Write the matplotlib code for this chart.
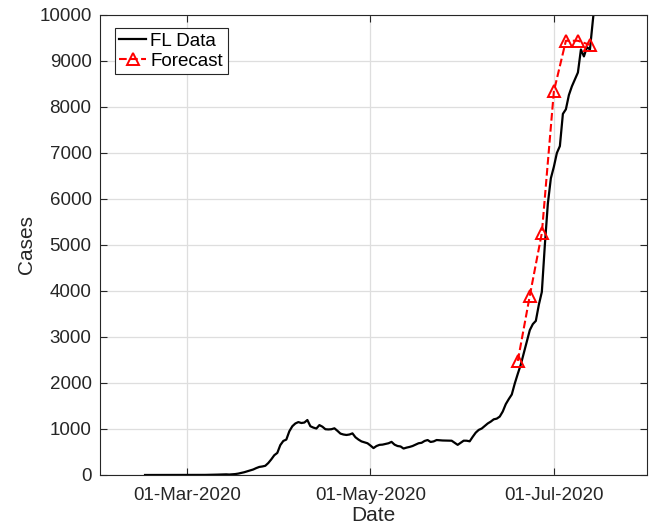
import matplotlib
matplotlib.use('Agg')
import matplotlib.pyplot as plt
import matplotlib.dates as mdates
import numpy as np

plt.rcParams['font.family'] = ['Liberation Sans', 'DejaVu Sans']

# FL daily cases, one value per day starting 16-Feb-2020
fl_start = '2020-02-16'
fl_cases = [0, 0, 0, 0, 0, 0, 0, 0, 0, 0, 0, 0, 0, 0, 0, 0, 0, 0, 0,
            1, 2, 3, 5, 6, 8, 10, 12, 14, 10,
            15, 20, 30, 45, 60, 80, 100, 120, 150, 175, 185, 200, 260, 340, 430, 480,
            650, 740, 770, 950, 1060, 1120, 1150, 1130, 1140, 1195,
            1060, 1030, 1010, 1085, 1050, 995, 990, 995, 1015, 960,
            900, 880, 870, 880, 905, 820, 770, 730, 710, 690,
            640, 585, 630, 655, 660, 675, 690, 720, 660, 630,
            620, 575, 595, 610, 630, 660, 690, 700, 740, 760,
            718, 730, 760, 755, 750, 748, 746, 745, 700, 655,
            700, 746, 745, 732, 830, 920, 980, 1010, 1065, 1120,
            1160, 1210, 1225, 1270, 1380, 1540, 1650, 1750, 1990, 2200,
            2400, 2650, 2900, 3150, 3280, 3350, 3700, 3980, 5000, 5900,
            6450, 6700, 7000, 7150, 7850, 7950, 8260, 8450, 8600, 8750,
            9250, 9100, 9300, 9250, 9900, 10500]

fc_dates = ['2020-06-19', '2020-06-23', '2020-06-27', '2020-07-01',
            '2020-07-05', '2020-07-09', '2020-07-13']
fc_cases = [2480, 3900, 5260, 8340, 9440, 9440, 9350]

fl_dates = np.arange(np.datetime64(fl_start), np.datetime64(fl_start) + len(fl_cases))
fc_dates = np.array(fc_dates, dtype='datetime64[D]')

fig = plt.figure(figsize=(6.49, 5.28), dpi=100)
ax = fig.add_axes([0.154, 0.1004, 0.843, 0.8712])

ax.plot(fl_dates, fl_cases, color='k', lw=1.6, label='FL Data')
ax.plot(fc_dates, fc_cases, '--^', color='red', lw=1.5, ms=9, mfc='none', mew=1.4,
        label='Forecast')

ax.set_xlim(np.datetime64('2020-02-01'), np.datetime64('2020-08-01'))
ax.set_ylim(0, 10000)
ax.set_yticks(np.arange(0, 10001, 1000))
ax.xaxis.set_major_locator(mdates.MonthLocator(bymonth=[3, 5, 7]))
ax.xaxis.set_major_formatter(mdates.DateFormatter('%d-%b-%Y'))

ax.grid(True, color='#dedede', lw=0.9)
ax.set_axisbelow(True)
ax.tick_params(direction='in', length=5, width=0.8, top=True, right=True,
               labelsize=13.5, colors='#262626', pad=6)
ax.tick_params(axis='x', pad=9)
for s in ax.spines.values():
    s.set_color('#262626')
    s.set_linewidth(0.8)

ax.set_xlabel('Date', fontsize=15, color='#262626', labelpad=1)
ax.set_ylabel('Cases', fontsize=15, color='#262626', labelpad=2)

leg = ax.legend(loc='upper left', bbox_to_anchor=(0.027, 0.972), borderaxespad=0,
                fontsize=13.5, fancybox=False, framealpha=1, edgecolor='#262626',
                handlelength=1.4, handletextpad=0.25, borderpad=0.25, labelspacing=0.15)
leg.get_frame().set_linewidth(0.8)

fig.savefig('out.png', dpi=100)
